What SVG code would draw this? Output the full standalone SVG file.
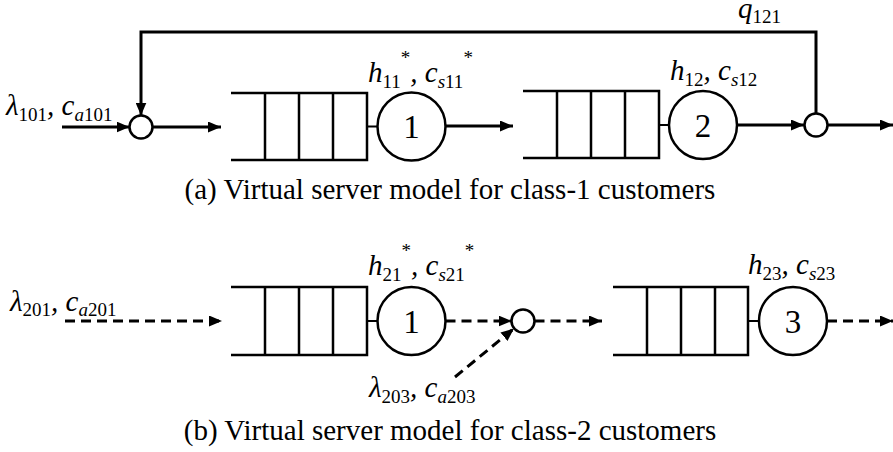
<svg xmlns="http://www.w3.org/2000/svg" width="893" height="452" viewBox="0 0 893 452">
  <style>
    .flow { fill: none; stroke: #000; stroke-width: 3; }
    .dash { fill: none; stroke: #000; stroke-width: 3; stroke-dasharray: 10 6; }
    .q { fill: none; stroke: #000; stroke-width: 2.5; }
    .link { fill: none; stroke: #000; stroke-width: 2; }
    .srv { fill: #fff; stroke: #000; stroke-width: 2.5; }
    .jn { fill: #fff; stroke: #000; stroke-width: 2.5; }
    .lbl { font-family: "Liberation Serif", "Times New Roman", serif; font-size: 29px; font-style: italic; fill: #000; }
    .sub { font-size: 19px; font-style: normal; }
    .subi { font-size: 19px; font-style: italic; }
    .sup { font-size: 19px; font-style: normal; }
    .num { font-family: "Liberation Serif", "Times New Roman", serif; font-size: 33px; text-anchor: middle; fill: #000; }
    .cap { font-family: "Liberation Serif", "Times New Roman", serif; font-size: 29px; text-anchor: middle; fill: #000; }
  </style>
  <defs>
    <marker id="arrow" markerUnits="userSpaceOnUse" markerWidth="13" markerHeight="11" refX="13" refY="5.5" orient="auto">
      <path d="M0,0 L13,5.5 L0,11 z" fill="#000"/>
    </marker>
  </defs>

  <!-- connectors -->
  <g id="connectors">
    <!-- class-1 -->
    <line class="flow" x1="62" y1="127" x2="129.5" y2="127" marker-end="url(#arrow)"/>
    <line class="flow" x1="152.5" y1="127" x2="221" y2="127" marker-end="url(#arrow)"/>
    <line class="flow" x1="445.5" y1="126" x2="513" y2="126" marker-end="url(#arrow)"/>
    <line class="flow" x1="737" y1="125" x2="804" y2="125" marker-end="url(#arrow)"/>
    <line class="flow" x1="827" y1="125" x2="893" y2="125" marker-end="url(#arrow)"/>
    <path class="flow" d="M816,113.5 V32 H141 V115.5" marker-end="url(#arrow)"/>
    <!-- class-2 -->
    <line class="dash" x1="65" y1="321" x2="222" y2="321" marker-end="url(#arrow)"/>
    <line class="dash" x1="445.5" y1="321" x2="511.5" y2="321" marker-end="url(#arrow)"/>
    <line class="dash" x1="534.5" y1="321" x2="602" y2="321" marker-end="url(#arrow)"/>
    <line class="dash" x1="827" y1="321" x2="893" y2="321" marker-end="url(#arrow)"/>
    <line class="dash" x1="455" y1="377" x2="514" y2="328.5" marker-end="url(#arrow)"/>
  </g>

  <!-- class-1 network -->
  <g id="join-1a">
    <circle class="jn" cx="141" cy="127" r="11.5"/>
  </g>
  <g id="queue-1a">
    <path class="q" d="M231,93 H367 V160 H231 M265,93 V160 M299,93 V160 M333,93 V160"/>
    <line class="link" x1="367" y1="126.5" x2="377.5" y2="126.5"/>
  </g>
  <g id="server-1a">
    <circle class="srv" cx="411.5" cy="126.5" r="34"/>
    <text class="num" x="411.5" y="138">1</text>
  </g>
  <g id="queue-2a">
    <path class="q" d="M523,91 H659 V158 H523 M557,91 V158 M591,91 V158 M625,91 V158"/>
    <line class="link" x1="659" y1="125" x2="669" y2="125"/>
  </g>
  <g id="server-2a">
    <circle class="srv" cx="703" cy="125" r="34"/>
    <text class="num" x="703" y="136.5">2</text>
  </g>
  <g id="split-1a">
    <circle class="jn" cx="816" cy="125" r="11.5"/>
  </g>

  <!-- class-2 network -->
  <g id="queue-1b">
    <path class="q" d="M231,287 H367 V355 H231 M265,287 V355 M299,287 V355 M333,287 V355"/>
    <line class="link" x1="367" y1="321" x2="377.5" y2="321"/>
  </g>
  <g id="server-1b">
    <circle class="srv" cx="411.5" cy="321" r="34"/>
    <text class="num" x="411.5" y="332.5">1</text>
  </g>
  <g id="join-2b">
    <circle class="jn" cx="523" cy="321" r="11.5"/>
  </g>
  <g id="queue-3b">
    <path class="q" d="M613,287 H748 V355 H613 M647,287 V355 M681,287 V355 M715,287 V355"/>
    <line class="link" x1="748" y1="321" x2="759" y2="321"/>
  </g>
  <g id="server-3b">
    <circle class="srv" cx="793" cy="321" r="34"/>
    <text class="num" x="793" y="332.5">3</text>
  </g>

  <!-- labels -->
  <g id="labels">
    <text class="lbl" x="6" y="115">λ<tspan class="sub" dy="6">101</tspan><tspan dy="-6">, c</tspan><tspan class="subi" dy="6">a</tspan><tspan class="sub">101</tspan></text>
    <text class="lbl" x="368" y="82">h<tspan class="sub" dy="6">11</tspan><tspan class="sup" dy="-24">*</tspan><tspan dy="18">, c</tspan><tspan class="subi" dy="6">s</tspan><tspan class="sub">11</tspan><tspan class="sup" dy="-24">*</tspan></text>
    <text class="lbl" x="670" y="80">h<tspan class="sub" dy="6">12</tspan><tspan dy="-6">, c</tspan><tspan class="subi" dy="6">s</tspan><tspan class="sub">12</tspan></text>
    <text class="lbl" x="738" y="18">q<tspan class="sub" dy="5">121</tspan></text>

    <text class="lbl" x="10" y="311">λ<tspan class="sub" dy="5">201</tspan><tspan dy="-5">, c</tspan><tspan class="subi" dy="5">a</tspan><tspan class="sub">201</tspan></text>
    <text class="lbl" x="368" y="275">h<tspan class="sub" dy="6">21</tspan><tspan class="sup" dy="-24">*</tspan><tspan dy="18">, c</tspan><tspan class="subi" dy="6">s</tspan><tspan class="sub">21</tspan><tspan class="sup" dy="-24">*</tspan></text>
    <text class="lbl" x="748" y="274">h<tspan class="sub" dy="6">23</tspan><tspan dy="-6">, c</tspan><tspan class="subi" dy="6">s</tspan><tspan class="sub">23</tspan></text>
    <text class="lbl" x="369" y="397">λ<tspan class="sub" dy="6">203</tspan><tspan dy="-6">, c</tspan><tspan class="subi" dy="6">a</tspan><tspan class="sub">203</tspan></text>

    <text class="cap" x="450" y="199">(a) Virtual server model for class-1 customers</text>
    <text class="cap" x="450" y="440">(b) Virtual server model for class-2 customers</text>
  </g>
</svg>
